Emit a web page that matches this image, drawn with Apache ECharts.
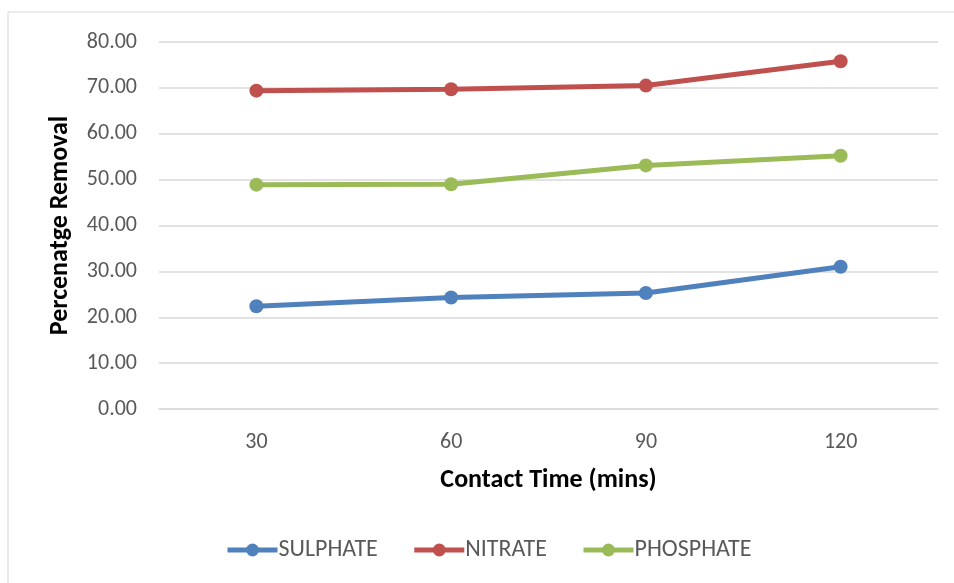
<!DOCTYPE html>
<html>
<head>
<meta charset="UTF-8">
<title>Percentage Removal vs Contact Time</title>
<script src="https://cdn.jsdelivr.net/npm/echarts@6.0.0/dist/echarts.min.js"></script>
<style>
  html, body { margin: 0; padding: 0; background: #fff; }
  #chart { width: 954px; height: 583px; }
</style>
</head>
<body>
<div id="chart"></div>
<script>
  // data
  const contactTimes = ['30', '60', '90', '120'];
  const sulphate = [22.4, 24.3, 25.3, 31.0];
  const nitrate = [69.4, 69.7, 70.5, 75.8];
  const phosphate = [48.9, 49.0, 53.1, 55.2];

  const font = 'Carlito, Lato, sans-serif';
  const chart = echarts.init(document.getElementById('chart'));

  function lineSeries(name, data, color) {
    return {
      name: name,
      type: 'line',
      data: data,
      symbol: 'circle',
      symbolSize: 14,
      lineStyle: { width: 5, color: color },
      itemStyle: { color: color },
      emphasis: { disabled: true }
    };
  }

  chart.setOption({
    animation: false,
    graphic: [{
      type: 'rect',
      shape: { x: 8, y: 12, width: 960, height: 600 },
      style: { fill: 'none', stroke: '#d9d9d9', lineWidth: 1 }
    }],
    grid: { left: 159, right: 16, top: 42, bottom: 174 },
    legend: {
      bottom: 16,
      left: 220,
      itemWidth: 50,
      itemHeight: 16,
      itemGap: 34,
      lineStyle: { width: 5 },
      textStyle: { fontFamily: font, fontSize: 24, color: '#595959', padding: [0, 0, 0, -4] },
      data: ['SULPHATE', 'NITRATE', 'PHOSPHATE']
    },
    xAxis: {
      type: 'category',
      data: contactTimes,
      boundaryGap: true,
      name: 'Contact Time (mins)',
      nameLocation: 'middle',
      nameGap: 58,
      nameTextStyle: { fontFamily: font, fontSize: 26, fontWeight: 'bold', color: '#000' },
      axisLine: { lineStyle: { color: '#d9d9d9', width: 1.5 } },
      axisTick: { show: false },
      axisLabel: { fontFamily: font, fontSize: 22, color: '#595959', margin: 22 }
    },
    yAxis: {
      type: 'value',
      min: 0,
      max: 80,
      interval: 10,
      name: 'Percenatge Removal',
      nameLocation: 'middle',
      nameGap: 86,
      nameTextStyle: { fontFamily: font, fontSize: 26, fontWeight: 'bold', color: '#000' },
      axisLine: { show: false },
      axisTick: { show: false },
      axisLabel: {
        fontFamily: font, fontSize: 22, color: '#595959', margin: 22,
        formatter: function (v) { return v.toFixed(2); }
      },
      splitLine: { lineStyle: { color: '#d9d9d9', width: 1.5 } }
    },
    series: [
      lineSeries('SULPHATE', sulphate, '#4f81bd'),
      lineSeries('NITRATE', nitrate, '#c0504d'),
      lineSeries('PHOSPHATE', phosphate, '#9bbb59')
    ]
  });

  window.addEventListener('resize', function () { chart.resize(); });
</script>
</body>
</html>
